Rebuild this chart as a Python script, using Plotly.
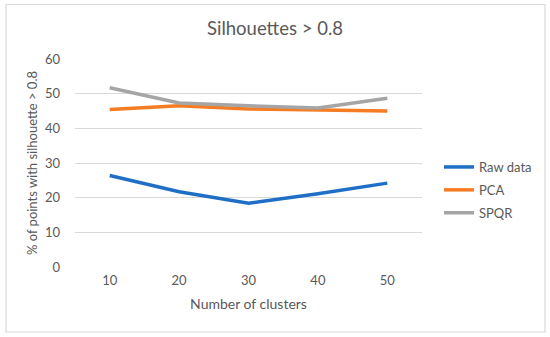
import plotly.graph_objects as go

clusters = ["10", "20", "30", "40", "50"]
raw_data = [26.4, 21.7, 18.4, 21.1, 24.2]
pca = [45.4, 46.5, 45.6, 45.4, 45.0]
spqr = [51.7, 47.3, 46.5, 45.9, 48.7]

series_names = ["Raw data", "PCA", "SPQR"]
series_colors = ["#1f6fc6", "#f57c22", "#a5a5a5"]

font_family = "Lato, 'Open Sans', sans-serif"
text_color = "#595959"

fig = go.Figure()
for name, vals, col in zip(series_names, [raw_data, pca, spqr], series_colors):
    fig.add_trace(go.Scatter(x=clusters, y=vals, mode="lines", name=name,
                             legendgroup=name,
                             line=dict(color=col, width=3.5)))

L, R, T, B = 75, 128, 59, 70
W, H = 550, 337
pw = W - L - R
ph = H - T - B

def px_x(p):
    return (p - L) / pw

def px_y(p):
    return (H - B - p) / ph

fig.add_shape(type="rect", xref="paper", yref="paper",
              x0=px_x(6), x1=px_x(545), y0=px_y(332), y1=px_y(4.5),
              line=dict(color="#d9d9d9", width=1.2), fillcolor="rgba(0,0,0,0)",
              layer="below")

fig.update_layout(
    width=W, height=H,
    margin=dict(l=L, r=R, t=T, b=B),
    paper_bgcolor="white", plot_bgcolor="white",
    font=dict(family=font_family, color=text_color, size=13),
    title=dict(text="Silhouettes > 0.8", x=0.5, xanchor="center",
               y=1 - 29 / H, yanchor="middle",
               font=dict(size=18.5, color=text_color, family=font_family)),
    showlegend=True,
    legend=dict(x=px_x(439), y=px_y(152), xanchor="left", yanchor="top",
                font=dict(size=13, color=text_color), tracegroupgap=3,
                itemwidth=30, bgcolor="rgba(0,0,0,0)"),
    xaxis=dict(type="category", range=[-0.5, 4.5], showgrid=False, zeroline=False, showline=False,
               ticks="", ticklabelstandoff=4, tickfont=dict(size=13, color=text_color),
               title=dict(text="Number of clusters", font=dict(size=14, color=text_color), standoff=12)),
    yaxis=dict(range=[0, 60], dtick=10, showgrid=True, gridcolor="#d9d9d9", gridwidth=1,
               zeroline=False, showline=False, ticks="", ticklabelstandoff=14,
               tickfont=dict(size=13, color=text_color),
               title=dict(text="% of points with silhouette > 0.8", font=dict(size=13, color=text_color), standoff=4)),
)

fig.write_html("out.html", config={"displayModeBar": False},
               post_script="document.body.style.margin='0';")
